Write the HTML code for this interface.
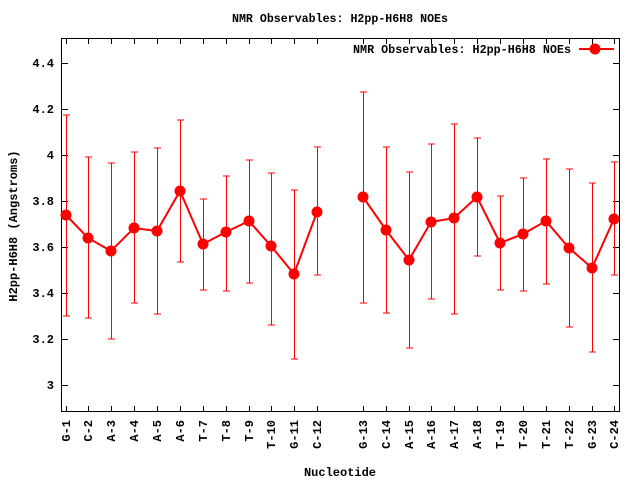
<!DOCTYPE html>
<html><head><style>body{margin:0;background:#fff}svg{display:block}text{font-family:"Liberation Mono",monospace;font-size:12px;font-weight:bold;fill:#000}</style></head>
<body>
<svg width="640" height="480" xmlns="http://www.w3.org/2000/svg">
<text x="340" y="22" text-anchor="middle" textLength="216" lengthAdjust="spacingAndGlyphs">NMR Observables: H2pp-H6H8 NOEs</text>
<rect x="61.5" y="38.5" width="558" height="373" fill="none" stroke="#000" stroke-width="1"/>
<g stroke="#000" stroke-width="1">
<path d="M62 63.5h6M62 109.5h6M62 155.5h6M62 201.5h6M62 247.5h6M62 293.5h6M62 339.5h6M62 385.5h6"/>
<path d="M619 63.5h-6M619 109.5h-6M619 155.5h-6M619 201.5h-6M619 247.5h-6M619 293.5h-6M619 339.5h-6M619 385.5h-6"/>
<path d="M66.5 411v-5M88.5 411v-5M111.5 411v-5M134.5 411v-5M157.5 411v-5M180.5 411v-5M203.5 411v-5M226.5 411v-5M249.5 411v-5M271.5 411v-5M294.5 411v-5M317.5 411v-5M363.5 411v-5M386.5 411v-5M409.5 411v-5M431.5 411v-5M454.5 411v-5M477.5 411v-5M500.5 411v-5M523.5 411v-5M546.5 411v-5M569.5 411v-5M592.5 411v-5M614.5 411v-5"/>
<path d="M66.5 39v5M88.5 39v5M111.5 39v5M134.5 39v5M157.5 39v5M180.5 39v5M203.5 39v5M226.5 39v5M249.5 39v5M271.5 39v5M294.5 39v5M317.5 39v5M363.5 39v5M386.5 39v5M409.5 39v5M431.5 39v5M454.5 39v5M477.5 39v5M500.5 39v5M523.5 39v5M546.5 39v5M569.5 39v5M592.5 39v5M614.5 39v5"/>
</g>
<g text-anchor="end">
<text x="54" y="67">4.4</text><text x="54" y="113">4.2</text><text x="54" y="159">4</text><text x="54" y="205">3.8</text><text x="54" y="251">3.6</text><text x="54" y="297">3.4</text><text x="54" y="343">3.2</text><text x="54" y="389">3</text>
</g>
<g text-anchor="end">
<text transform="translate(70,420) rotate(-90)">G-1</text>
<text transform="translate(92,420) rotate(-90)">C-2</text>
<text transform="translate(115,420) rotate(-90)">A-3</text>
<text transform="translate(138,420) rotate(-90)">A-4</text>
<text transform="translate(161,420) rotate(-90)">A-5</text>
<text transform="translate(184,420) rotate(-90)">A-6</text>
<text transform="translate(207,420) rotate(-90)">T-7</text>
<text transform="translate(230,420) rotate(-90)">T-8</text>
<text transform="translate(253,420) rotate(-90)">T-9</text>
<text transform="translate(275,420) rotate(-90)">T-10</text>
<text transform="translate(298,420) rotate(-90)">G-11</text>
<text transform="translate(321,420) rotate(-90)">C-12</text>
<text transform="translate(367,420) rotate(-90)">G-13</text>
<text transform="translate(390,420) rotate(-90)">C-14</text>
<text transform="translate(413,420) rotate(-90)">A-15</text>
<text transform="translate(435,420) rotate(-90)">A-16</text>
<text transform="translate(458,420) rotate(-90)">A-17</text>
<text transform="translate(481,420) rotate(-90)">A-18</text>
<text transform="translate(504,420) rotate(-90)">T-19</text>
<text transform="translate(527,420) rotate(-90)">T-20</text>
<text transform="translate(550,420) rotate(-90)">T-21</text>
<text transform="translate(573,420) rotate(-90)">T-22</text>
<text transform="translate(596,420) rotate(-90)">G-23</text>
<text transform="translate(618,420) rotate(-90)">C-24</text>
</g>
<text x="340" y="476" text-anchor="middle">Nucleotide</text>
<text transform="translate(17,226) rotate(-90)" text-anchor="middle">H2pp-H6H8 (Angstroms)</text>
<text x="571" y="53" text-anchor="end" textLength="218" lengthAdjust="spacingAndGlyphs">NMR Observables: H2pp-H6H8 NOEs</text>
<path d="M579 49h35" stroke="#f00" stroke-width="2"/>
<circle cx="595" cy="49" r="5.5" fill="#f00"/>
<g stroke="#f00" stroke-width="1" fill="none">
<path d="M66.5 115v201M63 115h7M63 316h7
M88.5 157v161M85 157h7M85 318h7
M111.5 163v176M108 163h7M108 339h7
M134.5 152v151M131 152h7M131 303h7
M157.5 148v166M154 148h7M154 314h7
M180.5 120v142M177 120h7M177 262h7
M203.5 199v91M200 199h7M200 290h7
M226.5 176v115M223 176h7M223 291h7
M249.5 160v123M246 160h7M246 283h7
M271.5 173v152M268 173h7M268 325h7
M294.5 190v169M291 190h7M291 359h7
M317.5 147v128M314 147h7M314 275h7
M363.5 92v211M360 92h7M360 303h7
M386.5 147v166M383 147h7M383 313h7
M409.5 172v176M406 172h7M406 348h7
M431.5 144v155M428 144h7M428 299h7
M454.5 124v190M451 124h7M451 314h7
M477.5 138v118M474 138h7M474 256h7
M500.5 196v94M497 196h7M497 290h7
M523.5 178v113M520 178h7M520 291h7
M546.5 159v125M543 159h7M543 284h7
M569.5 169v158M566 169h7M566 327h7
M592.5 183v169M589 183h7M589 352h7
M614.5 162v113M611 162h7M611 275h7"/>
</g>
<g stroke="#f00" stroke-width="2" fill="none">
<polyline points="66,215 88,238 111,251 134,228 157,231 180,191 203,244 226,232 249,221 271,246 294,274 317,212"/>
<polyline points="363,197 386,230 409,260 431,222 454,218 477,197 500,243 523,234 546,221 569,248 592,268 614,219"/>
</g>
<g fill="#f00">
<circle cx="66" cy="215" r="5.5"/><circle cx="88" cy="238" r="5.5"/><circle cx="111" cy="251" r="5.5"/><circle cx="134" cy="228" r="5.5"/><circle cx="157" cy="231" r="5.5"/><circle cx="180" cy="191" r="5.5"/><circle cx="203" cy="244" r="5.5"/><circle cx="226" cy="232" r="5.5"/><circle cx="249" cy="221" r="5.5"/><circle cx="271" cy="246" r="5.5"/><circle cx="294" cy="274" r="5.5"/><circle cx="317" cy="212" r="5.5"/>
<circle cx="363" cy="197" r="5.5"/><circle cx="386" cy="230" r="5.5"/><circle cx="409" cy="260" r="5.5"/><circle cx="431" cy="222" r="5.5"/><circle cx="454" cy="218" r="5.5"/><circle cx="477" cy="197" r="5.5"/><circle cx="500" cy="243" r="5.5"/><circle cx="523" cy="234" r="5.5"/><circle cx="546" cy="221" r="5.5"/><circle cx="569" cy="248" r="5.5"/><circle cx="592" cy="268" r="5.5"/><circle cx="614" cy="219" r="5.5"/>
</g>
</svg>
</body></html>
